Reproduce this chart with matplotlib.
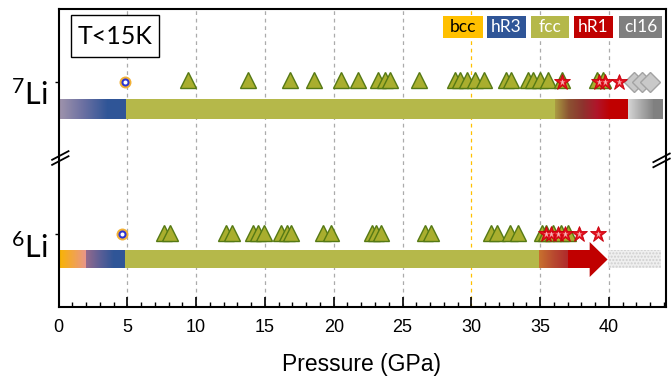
import numpy as np
import matplotlib
matplotlib.use("Agg")
import matplotlib.pyplot as plt
from matplotlib.colors import LinearSegmentedColormap
from matplotlib.patches import Rectangle, Polygon
from matplotlib.ticker import MultipleLocator

plt.rcParams['font.family'] = ['Liberation Sans', 'DejaVu Sans']
plt.rcParams['mathtext.default'] = 'regular'
LABEL_FONT = ['Lato', 'DejaVu Sans']

# ---- phase legend ----
phase_names = ['bcc', 'hR3', 'fcc', 'hR1', 'cI16']
phase_colors = ['#ffc000', '#2f5597', '#b5b84a', '#c00000', '#7f7f7f']
phase_text_colors = ['black', 'white', 'white', 'white', 'white']

# ---- 7Li observations (pressure, GPa) ----
li7_bcc_hr3 = [4.8]
li7_fcc = [9.4, 13.8, 16.8, 18.6, 20.5, 21.8, 23.2, 23.7, 24.1, 26.2, 28.8,
           29.2, 29.7, 30.3, 30.9, 32.5, 32.9, 34.1, 34.5, 35.0, 35.6, 36.6,
           39.1, 39.6]
li7_hr1 = [36.6, 39.3, 39.7, 40.7]
li7_ci16 = [41.8, 42.4, 43.0]

# ---- 6Li observations (pressure, GPa) ----
li6_bcc_hr3 = [4.6]
li6_fcc = [7.7, 8.1, 12.2, 12.6, 14.1, 14.5, 14.9, 16.2, 16.6, 16.9, 19.2,
           19.8, 22.8, 23.1, 23.4, 26.6, 27.1, 31.4, 31.9, 32.8, 33.4, 35.1,
           35.4, 35.9, 36.5, 37.0]
li6_hr1 = [35.4, 35.8, 36.3, 36.8, 37.8, 39.2]

# ---- phase bars: segment edges (GPa) and fill colours ----
li7_edges = [0.0, 3.5, 4.9, 36.1, 40.1, 41.4, 43.2, 43.9]
li7_fills = [['#a094ac', '#6b70a2', '#2f5597'], ['#2f5597'], ['#b5b84a'],
             ['#aa9c42', '#8c5232', '#8e332e', '#b0152a', '#c00000'],
             ['#c00000'], ['#d6d6d6', '#acacac', '#858585'], ['#808080']]

li6_edges = [0.0, 2.0, 4.0, 4.8, 34.9, 37.0, 38.6]
li6_fills = [['#f9b400', '#f2a545', '#e8958f'], ['#946a8c', '#5c5f96', '#2f5597'],
             ['#2f5597'], ['#b5b84a'], ['#c8722e', '#b84a30', '#b02a2c'], ['#c00000']]
li6_arrow_tip = 39.9
li6_uncertain_end = 43.8

highlight_pressure = 30

fig = plt.figure(figsize=(6.71, 3.76), dpi=100)
ax = fig.add_axes([58.5 / 671, 1 - 307 / 376, 607 / 671, 298 / 376])
ax.set_xlim(0, 44.11)
ax.set_ylim(0, 298)

row7, row6 = 225, 73
bar7 = (188, 208)
bar6 = (39, 57)


def draw_bar(edges, fills, y0, y1):
    for x0, x1, cols in zip(edges[:-1], edges[1:], fills):
        if len(cols) == 1:
            ax.add_patch(Rectangle((x0, y0), x1 - x0, y1 - y0, facecolor=cols[0],
                                   edgecolor='none', zorder=2))
        else:
            cmap = LinearSegmentedColormap.from_list('seg', cols)
            ax.imshow(np.linspace(0, 1, 256).reshape(1, -1), cmap=cmap,
                      extent=(x0, x1, y0, y1), aspect='auto', zorder=2,
                      interpolation='bilinear')


# dashed guide lines
for x in np.arange(5, 45, 5):
    ax.axvline(x, color='#ffc000' if x == highlight_pressure else '#ababab',
               ls=(0, (3, 3)), lw=0.9, zorder=1)

draw_bar(li7_edges, li7_fills, *bar7)
draw_bar(li6_edges, li6_fills, *bar6)

# 6Li arrow head and uncertain region
ax.add_patch(Polygon([[li6_edges[-1], 30], [li6_edges[-1], 65], [li6_arrow_tip, 47.5]],
                     closed=True, facecolor='#c00000', edgecolor='none', zorder=3))
ax.add_patch(Rectangle((li6_arrow_tip, bar6[0]), li6_uncertain_end - li6_arrow_tip,
                       bar6[1] - bar6[0], facecolor='#efefef', edgecolor='#cfcfcf',
                       hatch='.....', lw=0, zorder=2))


def circles(xs, y):
    n = len(xs)
    ax.plot(xs, [y] * n, 'o', ms=8.6, mfc='#f2b035', mec='none', zorder=6)
    ax.plot(xs, [y] * n, 'o', ms=5.8, mfc='#2b33d0', mec='none', zorder=6)
    ax.plot(xs, [y] * n, 'o', ms=2.9, mfc='white', mec='none', zorder=6)


def triangles(xs, y):
    ax.plot(xs, [y] * len(xs), '^', ms=11.5, mfc='#a9ae2e', mec='#557914',
            mew=1, ls='none', zorder=5)


def stars(xs, y):
    ax.plot(xs, [y] * len(xs), '*', ms=12, mfc='#e3101e', mec='#c8000c',
            mew=0.6, ls='none', zorder=7)
    ax.plot(xs, [y] * len(xs), '*', ms=4.5, mfc='#f6b6b6', mec='none',
            ls='none', zorder=8)


circles(li7_bcc_hr3, row7)
triangles(li7_fcc, row7 + 2)
stars(li7_hr1, row7)
ax.plot(li7_ci16, [row7] * len(li7_ci16), 'D', ms=10, mfc='#c9c9c9', mec='#a3a3a3',
        mew=1, ls='none', zorder=5)

circles(li6_bcc_hr3, row6)
triangles(li6_fcc, row6 + 1.5)
stars(li6_hr1, row6)

# axes styling
for s in ax.spines.values():
    s.set_linewidth(1.5)
ax.xaxis.set_major_locator(MultipleLocator(5))
ax.xaxis.set_minor_locator(MultipleLocator(1))
ax.tick_params(axis='x', which='major', direction='in', length=7, width=1.2,
               labelsize=13, pad=9)
ax.tick_params(axis='x', which='minor', direction='in', length=3.5, width=1)
ax.set_yticks([row7, row6])
ax.set_yticklabels(['', ''])
ax.tick_params(axis='y', direction='out', length=3, width=1)
ax.set_xlabel('Pressure (GPa)', fontsize=16.5, labelpad=12)

# isotope labels
ylab = ax.get_yaxis_transform()
ax.text(-0.017, row7 - 23, '$^{7}$Li', transform=ylab, ha='right', va='baseline',
        fontsize=22, family=LABEL_FONT)
ax.text(-0.017, row6 - 24, '$^{6}$Li', transform=ylab, ha='right', va='baseline',
        fontsize=22, family=LABEL_FONT)

# axis-break marks on both side spines
for xc, yc in [(0.003, 0.50), (0.9935, 0.492)]:
    for dy in (-0.0085, 0.0085):
        ax.plot([xc - 0.0135, xc + 0.0135], [yc + dy - 0.0145, yc + dy + 0.0145],
                color='black', lw=1.3, transform=ax.transAxes, clip_on=False, zorder=9)

# temperature box
ax.add_patch(Rectangle((0.0206, 0.839), 0.145, 0.141, transform=ax.transAxes,
                       facecolor='white', edgecolor='black', lw=1, zorder=9))
ax.text(0.0931, 0.909, 'T<15K', transform=ax.transAxes, ha='center', va='center',
        fontsize=18, family=LABEL_FONT, zorder=10)

# phase colour key
key_px = [(443, 483), (487, 526), (531, 569), (574, 613), (619, 662)]
for (p0, p1), name, col, tcol in zip(key_px, phase_names, phase_colors, phase_text_colors):
    x0 = (p0 - 58.5) / 607
    w = (p1 - p0) / 607
    ax.add_patch(Rectangle((x0, 269 / 298), w, 22 / 298, transform=ax.transAxes,
                           facecolor=col, edgecolor='none', zorder=9))
    ax.text(x0 + w / 2, 280 / 298, name, transform=ax.transAxes, ha='center',
            va='center', color=tcol, fontsize=12.5, family=LABEL_FONT, zorder=10)

fig.savefig('out.png', dpi=100)
